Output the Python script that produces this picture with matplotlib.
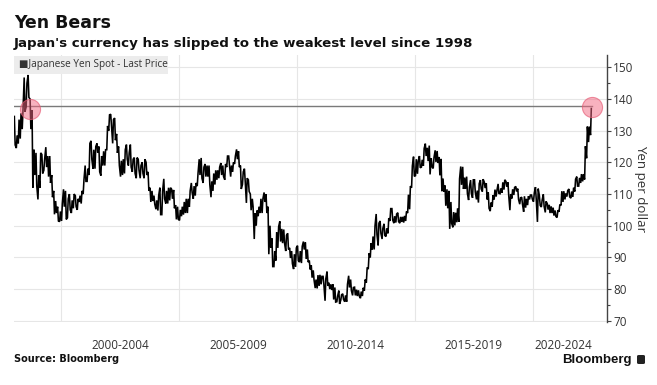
import matplotlib
matplotlib.use("Agg")
import matplotlib.pyplot as plt
from matplotlib.patches import Rectangle, FancyBboxPatch

# ---------------- data (USD/JPY, monthly low / high, Jan 1998 - Jun 2022) -------------
start_year = 1998
monthly_low = [
    125.5, 124.5, 126.0, 127.5, 130.5, 136.0, 137.5, 140.5, 130.5, 112.0, 116.0, 112.5,  # 1998
    108.3, 112.0, 116.5, 117.5, 118.5, 115.5, 113.5, 109.0, 103.6, 104.0, 101.5, 101.3,  # 1999
    101.5, 106.0, 102.0, 102.5, 105.0, 104.0, 105.5, 106.0, 105.0, 107.5, 107.0, 110.0,  # 2000
    114.0, 114.0, 116.0, 121.0, 118.0, 118.0, 123.0, 117.0, 115.8, 119.0, 119.0, 124.0,  # 2001
    130.0, 131.5, 126.0, 127.0, 123.0, 119.0, 115.5, 116.0, 116.5, 121.0, 119.0, 118.5,  # 2002
    117.0, 116.5, 115.0, 117.5, 115.0, 116.5, 115.0, 116.0, 111.0, 107.5, 107.8, 106.8,  # 2003
    105.2, 104.8, 103.5, 103.5, 108.5, 107.0, 107.0, 108.0, 108.5, 105.5, 102.0, 102.0,  # 2004
    101.7, 103.0, 103.5, 104.0, 104.0, 106.0, 110.5, 108.5, 109.5, 112.5, 116.0, 115.0,  # 2005
    113.5, 115.5, 115.5, 113.0, 109.0, 111.0, 113.0, 114.5, 115.0, 116.0, 115.5, 114.5,  # 2006
    118.5, 119.0, 115.5, 117.0, 119.5, 121.0, 118.5, 111.6, 113.0, 114.0, 107.2, 110.8,  # 2007
    104.9, 106.0, 95.8, 100.0, 103.0, 104.0, 104.0, 107.5, 104.0, 91.0, 93.0, 87.1,      # 2008
    87.1, 89.0, 93.0, 95.0, 94.5, 94.5, 92.0, 92.5, 89.8, 88.0, 86.3, 87.0,              # 2009
    89.0, 88.5, 88.2, 92.5, 89.5, 88.5, 86.2, 83.6, 82.9, 80.3, 80.2, 81.0,              # 2010
    81.5, 81.5, 76.3, 81.0, 80.0, 79.7, 76.7, 75.9, 76.0, 75.3, 76.5, 76.7,              # 2011
    76.0, 76.0, 80.5, 79.5, 78.0, 78.0, 77.8, 77.8, 77.1, 77.8, 79.5, 82.0,              # 2012
    86.5, 90.0, 92.5, 92.5, 97.2, 93.8, 97.6, 95.8, 96.9, 96.6, 97.6, 101.5,             # 2013
    101.8, 100.8, 101.0, 101.3, 100.8, 101.2, 101.0, 101.5, 104.0, 105.2, 112.0, 115.6,  # 2014
    115.8, 116.4, 118.3, 118.5, 118.9, 122.0, 120.4, 116.2, 118.6, 118.1, 120.1, 119.8,  # 2015
    115.9, 110.9, 110.7, 106.3, 105.5, 99.0, 100.7, 99.5, 100.1, 101.1, 101.2, 112.9,    # 2016
    111.6, 111.6, 110.1, 108.1, 110.2, 108.8, 110.6, 108.3, 107.3, 111.6, 110.8, 111.9,  # 2017
    108.3, 105.5, 104.6, 106.0, 108.3, 109.2, 110.2, 110.1, 110.4, 111.4, 112.3, 109.6,  # 2018
    104.9, 108.6, 109.7, 110.8, 108.3, 106.8, 106.8, 104.4, 105.7, 106.5, 108.3, 108.4,  # 2019
    107.6, 108.3, 101.2, 106.4, 105.9, 106.1, 104.2, 105.1, 104.0, 104.0, 103.2, 102.9,  # 2020
    102.6, 104.4, 106.4, 107.5, 108.3, 109.2, 109.1, 108.7, 109.1, 110.8, 112.5, 112.5,  # 2021
    113.5, 114.0, 114.6, 121.3, 126.4, 128.6,                                            # 2022
]
monthly_high = [
    134.5, 128.5, 133.5, 135.5, 136.5, 146.8, 145.0, 147.6, 140.0, 136.5, 124.0, 123.0,  # 1998
    116.0, 123.0, 122.5, 121.0, 124.8, 122.0, 122.0, 116.0, 111.0, 107.8, 106.0, 104.5,  # 1999
    107.0, 111.5, 111.0, 108.5, 110.0, 108.0, 110.0, 109.5, 108.5, 109.5, 111.0, 114.5,  # 2000
    119.0, 118.0, 126.0, 126.8, 124.0, 125.0, 126.0, 125.0, 122.0, 123.5, 124.0, 131.5,  # 2001
    135.0, 135.2, 133.5, 134.0, 129.0, 125.0, 120.5, 121.0, 124.0, 125.6, 123.0, 125.6,  # 2002
    121.0, 121.5, 121.5, 121.0, 119.0, 120.0, 121.0, 120.0, 117.0, 112.0, 111.0, 109.5,  # 2003
    108.0, 109.5, 112.0, 111.0, 114.8, 111.0, 112.0, 112.0, 111.5, 111.3, 106.5, 106.0,  # 2004
    105.0, 106.0, 107.5, 108.5, 108.5, 111.0, 113.5, 112.5, 113.5, 116.5, 121.0, 121.4,  # 2005
    118.5, 119.5, 119.0, 119.0, 114.0, 116.5, 117.5, 117.5, 118.5, 119.8, 119.0, 119.5,  # 2006
    122.0, 122.0, 119.0, 120.0, 122.0, 124.1, 123.5, 119.0, 117.0, 118.0, 115.0, 114.5,  # 2007
    110.0, 108.5, 104.0, 104.8, 106.0, 108.5, 108.5, 110.5, 110.0, 106.0, 100.0, 96.0,   # 2008
    92.0, 98.0, 99.7, 101.4, 99.0, 98.8, 97.0, 97.6, 93.0, 92.0, 91.0, 93.0,             # 2009
    93.7, 92.0, 93.5, 95.0, 94.7, 92.5, 89.0, 87.5, 85.9, 83.0, 84.4, 84.5,              # 2010
    84.0, 84.0, 83.3, 85.5, 82.0, 81.5, 81.5, 80.5, 77.8, 79.5, 78.2, 78.5,              # 2011
    78.0, 81.5, 84.2, 83.0, 80.5, 80.6, 79.8, 79.6, 79.2, 80.4, 83.0, 86.6,              # 2012
    91.3, 94.5, 96.6, 99.9, 103.7, 100.8, 101.5, 99.2, 100.6, 99.2, 102.4, 105.4,        # 2013
    105.4, 103.0, 103.7, 104.1, 102.8, 102.8, 103.1, 104.5, 109.8, 112.5, 118.9, 121.8,  # 2014
    121.0, 120.5, 122.0, 120.8, 124.4, 125.9, 124.6, 125.3, 121.3, 121.5, 123.8, 123.6,  # 2015
    121.7, 121.1, 114.9, 112.7, 111.5, 111.0, 107.5, 104.3, 104.1, 105.5, 114.8, 118.7,  # 2016
    118.6, 115.2, 115.5, 112.2, 114.4, 114.5, 114.5, 111.1, 113.3, 114.4, 114.7, 113.7,  # 2017
    113.4, 110.5, 107.3, 109.6, 111.4, 111.1, 113.2, 111.8, 113.7, 114.5, 114.0, 113.7,  # 2018
    110.0, 111.5, 112.1, 112.4, 111.7, 108.8, 109.0, 109.3, 108.5, 109.3, 109.7, 109.7,  # 2019
    110.3, 112.2, 111.7, 109.4, 108.1, 109.9, 107.7, 107.0, 106.6, 106.1, 105.7, 104.8,  # 2020
    104.9, 106.7, 110.9, 110.9, 110.2, 111.1, 111.6, 110.8, 112.0, 114.7, 115.5, 115.1,  # 2021
    116.3, 116.3, 125.1, 131.3, 131.3, 137.0,                                            # 2022
]

period_labels = ["2000-2004", "2005-2009", "2010-2014", "2015-2019", "2020-2024"]
period_label_pos = [2002.5, 2007.5, 2012.5, 2017.5, 2021.3]
grid_years = [2000, 2005, 2010, 2015, 2020]
y_ticks = [70, 80, 90, 100, 110, 120, 130, 140, 150]
ref_level = 137.8
highlight_x = [1998.69, 2022.49]
highlight_y = [136.8, 137.4]

# ---------------- build the path (low/high per month, ordered by direction) -----------
xs, ys = [], []
n = len(monthly_low)
for i in range(n):
    lo, hi = monthly_low[i], monthly_high[i]
    mid = (lo + hi) / 2
    if i + 1 < n:
        nxt = (monthly_low[i + 1] + monthly_high[i + 1]) / 2
        up = nxt >= mid
    else:
        up = True
    first, second = (lo, hi) if up else (hi, lo)
    t = start_year + i / 12
    xs += [t + 0.3 / 12, t + 0.7 / 12]
    ys += [first, second]

# ---------------- figure ---------------------------------------------------------------
W, H = 657, 385
fig = plt.figure(figsize=(W / 100, H / 100), dpi=100)
L, R, T, B = 14, 607, 55, 322
ax = fig.add_axes([L / W, 1 - B / H, (R - L) / W, (B - T) / H])

ax.set_xlim(1998.01, 2023.14)
ax.set_ylim(69.6, 153.9)

for s in ["left", "top", "bottom"]:
    ax.spines[s].set_visible(False)
ax.spines["right"].set_color("#444444")
ax.spines["right"].set_linewidth(1.0)

ax.yaxis.tick_right()
ax.set_yticks(y_ticks)
ax.set_yticks(range(75, 155, 10), minor=True)
ax.tick_params(axis="y", which="major", length=3, width=0.8, color="#444444",
               labelsize=8.5, labelcolor="#333333", pad=1.5)
ax.tick_params(axis="y", which="minor", length=2, width=0.8, color="#444444")
for lab in ax.get_yticklabels():
    lab.set_fontfamily("Open Sans")

ax.set_xticks(grid_years)
ax.set_xticklabels([])
ax.set_xticks(period_label_pos, minor=True)
ax.set_xticklabels(period_labels, minor=True)
ax.tick_params(axis="x", which="both", length=0, labelsize=8.5, labelcolor="#333333", pad=12)
for lab in ax.get_xticklabels(minor=True):
    lab.set_fontfamily("Open Sans")

ax.grid(True, which="major", color="#e6e6e6", lw=0.8)
ax.set_axisbelow(True)

ax.plot(xs, ys, color="black", lw=1.15, solid_joinstyle="miter", zorder=3)
ax.plot([1998.01, highlight_x[1]], [ref_level, ref_level], color="#7a7a7a", lw=1.0, zorder=2)
ax.scatter(highlight_x, highlight_y, s=210, facecolor=(0.95, 0.40, 0.50, 0.5),
           edgecolor=(0.90, 0.35, 0.45, 0.65), lw=0.8, zorder=4)

# ---------------- texts ------------------------------------------------------------------
fig.text(14 / W, 1 - 23 / H, "Yen Bears", fontsize=12.5, fontweight="bold",
         family="DejaVu Sans", va="center", ha="left", color="#111111")
fig.text(14 / W, 1 - 43 / H, "Japan's currency has slipped to the weakest level since 1998",
         fontsize=9.6, fontweight="bold", family="DejaVu Sans", va="center", ha="left",
         color="#111111")

fig.patches.append(Rectangle((14 / W, 1 - 74 / H), 154 / W, 18 / H, transform=fig.transFigure,
                             facecolor="#ececec", edgecolor="none", zorder=5))
fig.text(19 / W, 1 - 65 / H, "\u25A0Japanese Yen Spot - Last Price", fontsize=7.2,
         family=["Open Sans", "DejaVu Sans"], va="center", ha="left", color="#333333",
         zorder=6)

fig.text(641 / W, 1 - 189 / H, "Yen per dollar", rotation=270, fontsize=9.5,
         family="Open Sans", va="center", ha="center", color="#333333")

fig.text(14 / W, 1 - 359 / H, "Source: Bloomberg", fontsize=7, fontweight="bold",
         family="DejaVu Sans", va="center", ha="left", color="#111111")
fig.text(632 / W, 1 - 359.5 / H, "Bloomberg", fontsize=9.5, fontweight="bold",
         family="Liberation Sans", va="center", ha="right", color="#111111")
fig.patches.append(FancyBboxPatch((637 / W, 1 - 364 / H), 8 / W, 9 / H,
                                  boxstyle="round,pad=0,rounding_size=0.003",
                                  transform=fig.transFigure, facecolor="#222222",
                                  edgecolor="none"))

fig.savefig("out.png", dpi=100)
